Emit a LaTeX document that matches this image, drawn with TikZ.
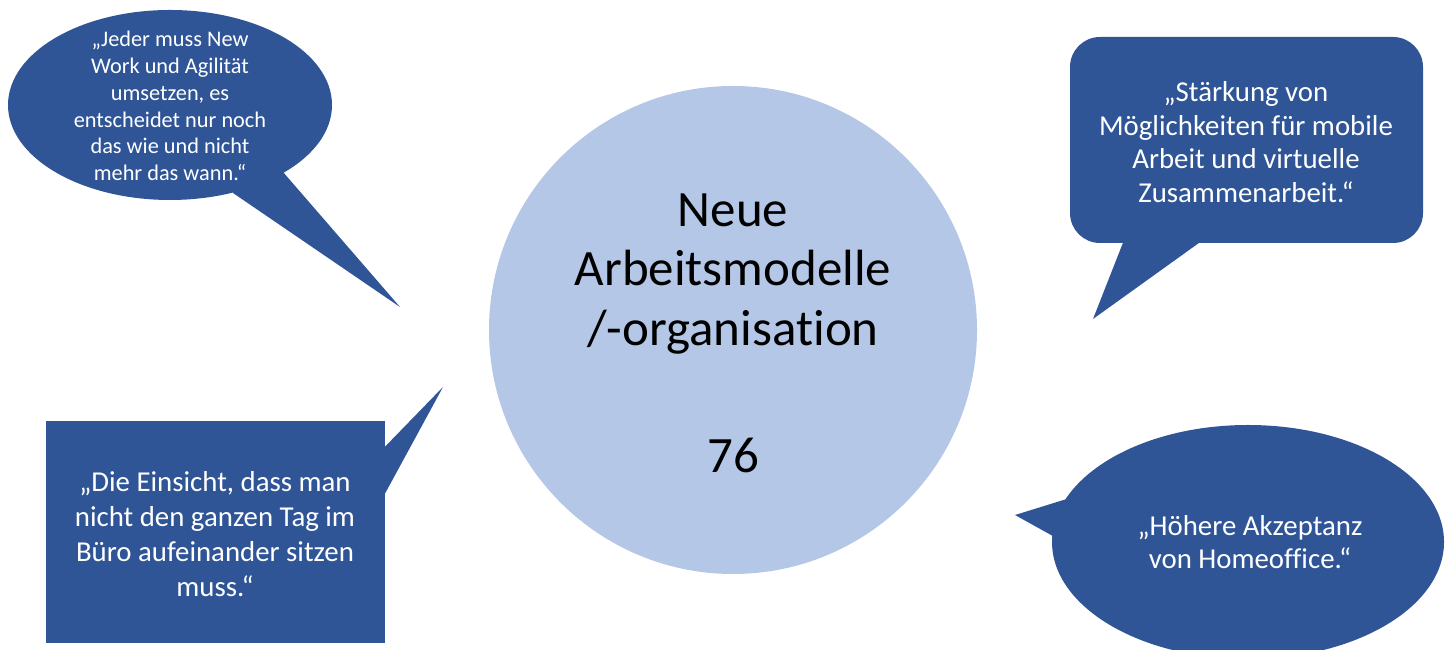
\documentclass[tikz,border=0pt]{standalone}
\usepackage{fontspec}
\setmainfont{Carlito}[Ligatures=NoCommon]
\usetikzlibrary{shapes.geometric}
\definecolor{dblue}{HTML}{2F5597}
\definecolor{lblue}{HTML}{B4C7E7}
\tikzset{
  bubble/.style={fill=dblue, draw=dblue!80!white, line width=0.3pt},
  qtext/.style={text=white, align=center, inner sep=0pt},
}
\begin{document}
\begin{tikzpicture}[x=0.1mm,y=-0.1mm]
\useasboundingbox (0,0) rectangle (1448,650);
% central circle
\node[circle, fill=lblue, minimum size=488*0.1mm, inner sep=0pt] (center) at (733,330) {};
\node[align=center, inner sep=0pt, font=\fontsize{14.5}{17}\selectfont] (centertext) at (733,333)
  {Neue\\Arbeitsmodelle\\/-organisation\\[19pt]76};
% top-left ellipse callout
\coordinate (tl1) at (283,172);
\coordinate (tl2) at (233,193);
\coordinate (tltip) at (400,307);
\fill[dblue] (250,150) -- (tl1) -- (tltip) -- (tl2) -- cycle;
\node[ellipse, fill=dblue, minimum width=324*0.1mm, minimum height=190*0.1mm, inner sep=0pt] (tl) at (170,105) {};
\node[qtext, font=\fontsize{6.35}{7.6}\selectfont] (tltext) at (170,106)
  {„Jeder muss New\\Work und Agilität\\umsetzen, es\\entscheidet nur noch\\das wie und nicht\\mehr das wann.“};
% top-right rounded rectangle callout
\coordinate (tr1) at (1128,230);
\coordinate (tr2) at (1217,230);
\coordinate (trtip) at (1093,319);
\fill[dblue] (tr1) -- (trtip) -- (tr2) -- cycle;
\node[rectangle, rounded corners=30*0.1mm, fill=dblue, minimum width=353*0.1mm, minimum height=206*0.1mm] (tr) at (1246.5,140) {};
\node[qtext, font=\fontsize{8.2}{9.6}\selectfont] (trtext) at (1246,142)
  {„Stärkung von\\Möglichkeiten für mobile\\Arbeit und virtuelle\\Zusammenarbeit.“};
% bottom-left rectangle callout
\coordinate (bl1) at (375,457);
\coordinate (bl2) at (375,512);
\coordinate (bltip) at (443,387);
\fill[dblue] (bl1) -- (bltip) -- (bl2) -- cycle;
\node[rectangle, fill=dblue, minimum width=339*0.1mm, minimum height=222*0.1mm] (bl) at (215.5,532) {};
\node[qtext, font=\fontsize{8.2}{9.9}\selectfont] (bltext) at (215,534)
  {„Die Einsicht, dass man\\nicht den ganzen Tag im\\Büro aufeinander sitzen\\muss.“};
% bottom-right ellipse callout
\coordinate (br1) at (1070,498);
\coordinate (br2) at (1060,540);
\coordinate (brtip) at (1015,515);
\fill[dblue] (br1) -- (brtip) -- (br2) -- (1100,520) -- cycle;
\node[ellipse, fill=dblue, minimum width=392*0.1mm, minimum height=234*0.1mm, inner sep=0pt] (br) at (1248,542) {};
\node[qtext, font=\fontsize{8.2}{9.4}\selectfont] (brtext) at (1250,542)
  {„Höhere Akzeptanz\\von Homeoffice.“};
\end{tikzpicture}
\end{document}
